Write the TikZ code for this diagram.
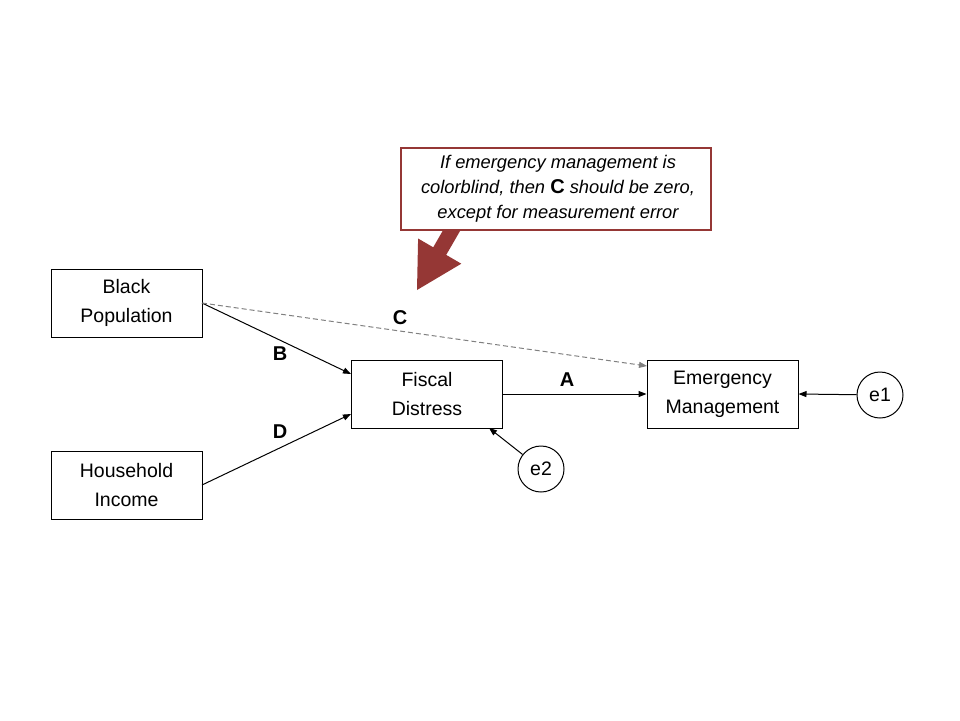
\documentclass[tikz,border=0pt]{standalone}
\usepackage{fontspec}
\setmainfont{Liberation Sans}
\usetikzlibrary{arrows.meta}
\definecolor{callred}{HTML}{953735}
\begin{document}
\begin{tikzpicture}[x=1pt,y=-1pt,
  box/.style={draw,line width=1pt,minimum width=151pt,minimum height=68pt,align=center,font=\fontsize{19.5}{29}\selectfont,inner sep=0pt,fill=white},
  err/.style={draw,circle,line width=1pt,minimum size=46pt,inner sep=0pt,font=\fontsize{19.5}{22}\selectfont},
  conn/.style={line width=1pt,-{Triangle[length=8pt,width=6pt]}},
  lab/.style={font=\fontsize{20}{22}\selectfont\bfseries}]
\useasboundingbox (0,0) rectangle (960,720);
% big arrow
\fill[callred] (448.3,221.2) -- (433.2,247.3) -- (418.1,238.5) -- (417,290) -- (461.3,263.7) -- (446.2,254.9) -- (461.3,228.8) -- cycle;
\node[draw=callred,line width=2pt,fill=white,minimum width=310pt,minimum height=82pt,inner sep=0pt,font=\fontsize{18.3}{25}\selectfont\itshape] (note) at (556,189) {};
\node[align=center,inner sep=0pt,font=\fontsize{18.3}{25}\selectfont\itshape] (notetext) at (558,189)
  {If emergency management is\\colorblind, then {\upshape\bfseries\fontsize{20}{25}\selectfont C} should be zero,\\except for measurement error};
\node[box] (bp) at (126.5,303) {Black\\Population};
\node[box] (hi) at (126.5,485) {Household\\Income};
\node[box] (fd) at (427,394) {Fiscal\\Distress};
\node[box] (em) at (722.5,394) {Emergency\\Management};
\node[err] (e1) at (880,395) {e1};
\node[err] (e2) at (541,469) {e2};
\coordinate (bpo) at (202,303);
\coordinate (hio) at (202,485);
\coordinate (fdb) at (351,374);
\coordinate (fdd) at (351,414);
\coordinate (emc) at (647,366);
\draw[conn] (bpo) -- (fdb);
\draw[conn] (hio) -- (fdd);
\draw[conn,gray,dashed,dash pattern=on 5pt off 3pt] (bpo) -- (emc);
\draw[conn] (fd.east) -- (em.west);
\draw[conn] (e1) -- (em.east);
\coordinate (fde) at (489,428);
\draw[conn] (e2) -- (fde);
\node[lab] (lb) at (280,354) {B};
\node[lab] (ld) at (280,432) {D};
\node[lab] (lc) at (400,318) {C};
\node[lab] (la) at (567,380) {A};
\end{tikzpicture}
\end{document}
